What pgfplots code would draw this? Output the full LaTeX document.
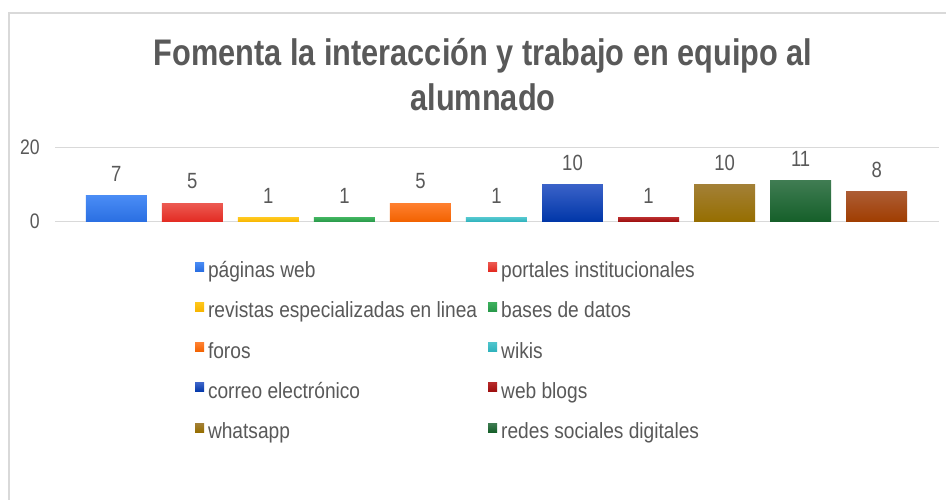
\documentclass[border=0pt]{standalone}
\usepackage{fontspec}
\setmainfont{Liberation Sans}[FakeStretch=0.84]
\newfontfamily\titlefont{Liberation Sans}[FakeStretch=0.83]
\newfontfamily\legfont{Liberation Sans}[FakeStretch=0.87]
\usepackage{pgfplots}
\pgfplotsset{compat=1.18}
\definecolor{txt}{HTML}{595959}
\definecolor{gridc}{HTML}{D9D9D9}
\definecolor{frame}{HTML}{D9D9D9}
\definecolor{c1t}{HTML}{4A8CF5}\definecolor{c1b}{HTML}{2A6FE2}
\definecolor{c2t}{HTML}{EC5A52}\definecolor{c2b}{HTML}{E32B22}
\definecolor{c3t}{HTML}{FFC61A}\definecolor{c3b}{HTML}{F7B500}
\definecolor{c4t}{HTML}{3DB05C}\definecolor{c4b}{HTML}{28994A}
\definecolor{c5t}{HTML}{FF8030}\definecolor{c5b}{HTML}{F26200}
\definecolor{c6t}{HTML}{4EC4CC}\definecolor{c6b}{HTML}{2EB2BC}
\definecolor{c7t}{HTML}{3A62C8}\definecolor{c7b}{HTML}{0036A8}
\definecolor{c8t}{HTML}{B52828}\definecolor{c8b}{HTML}{9C0C0C}
\definecolor{c9t}{HTML}{A38036}\definecolor{c9b}{HTML}{966E00}
\definecolor{c10t}{HTML}{3F7C52}\definecolor{c10b}{HTML}{155F29}
\definecolor{c11t}{HTML}{AC5C34}\definecolor{c11b}{HTML}{A03D00}
\begin{document}
\begin{tikzpicture}[x=1pt,y=1pt]
\path[use as bounding box] (0,0) rectangle (946,500);
\fill[white] (0,0) rectangle (946,500);
\draw[line width=2pt, frame] (9,0) -- (9,487) -- (946,487);
\node[anchor=base, inner sep=0pt, text=txt, font=\titlefont\bfseries\fontsize{37}{45}\selectfont] at (483,434) {Fomenta la interacción y trabajo en equipo al};
\node[anchor=base, inner sep=0pt, text=txt, font=\titlefont\bfseries\fontsize{37}{45}\selectfont] at (483,389) {alumnado};
\begin{axis}[
  at={(55pt,278.3pt)}, anchor=south west,
  scale only axis, width=884pt, height=74.4pt,
  xmin=-0.806, xmax=10.82, ymin=0, ymax=20,
  ytick={0,20}, xtick=\empty,
  axis line style={draw=none},
  ymajorgrids, grid style={line width=1.5pt, gridc},
  major tick length=0pt,
  ybar, bar width=0.802, bar shift=0pt,
  clip=false,
  /pgf/number format/assume math mode=true,
  yticklabel style={anchor=east, inner sep=0pt, xshift=-15pt, text=txt, font=\fontsize{21}{25}\selectfont},
  nodes near coords,
  every node near coord/.append style={font=\fontsize{22}{26}\selectfont, text=txt, anchor=south, inner sep=0pt, yshift=14pt},
  legend columns=2,
  legend cell align=left,
  legend image code/.code={\fill[#1, draw=none] (0pt,1.5pt) rectangle (9pt,10.5pt);},
  legend style={at={(0.1584,-0.5417)}, anchor=north west, draw=none, fill=none,
    inner sep=0pt, outer sep=0pt, text=txt,
    font=\legfont\fontsize{22}{26}\selectfont,
    nodes={inner sep=0pt, text height=15pt, text depth=5pt},
    row sep=19.8pt,
    /tikz/every odd column/.append style={column sep=4pt},
    /tikz/every even column/.append style={column sep=11pt}},
]
\addplot[draw=none, top color=c1t, bottom color=c1b] coordinates {(0,7)};
\addlegendentry{páginas web}
\addplot[draw=none, top color=c2t, bottom color=c2b] coordinates {(1,5)};
\addlegendentry{portales institucionales}
\addplot[draw=none, top color=c3t, bottom color=c3b] coordinates {(2,1)};
\addlegendentry{revistas especializadas en linea}
\addplot[draw=none, top color=c4t, bottom color=c4b] coordinates {(3,1)};
\addlegendentry{bases de datos}
\addplot[draw=none, top color=c5t, bottom color=c5b] coordinates {(4,5)};
\addlegendentry{foros}
\addplot[draw=none, top color=c6t, bottom color=c6b] coordinates {(5,1)};
\addlegendentry{wikis}
\addplot[draw=none, top color=c7t, bottom color=c7b] coordinates {(6,10)};
\addlegendentry{correo electrónico}
\addplot[draw=none, top color=c8t, bottom color=c8b] coordinates {(7,1)};
\addlegendentry{web blogs}
\addplot[draw=none, top color=c9t, bottom color=c9b] coordinates {(8,10)};
\addlegendentry{whatsapp}
\addplot[draw=none, top color=c10t, bottom color=c10b] coordinates {(9,11)};
\addlegendentry{redes sociales digitales}
\addplot[draw=none, top color=c11t, bottom color=c11b, forget plot] coordinates {(10,8)};
\end{axis}
\end{tikzpicture}
\end{document}
